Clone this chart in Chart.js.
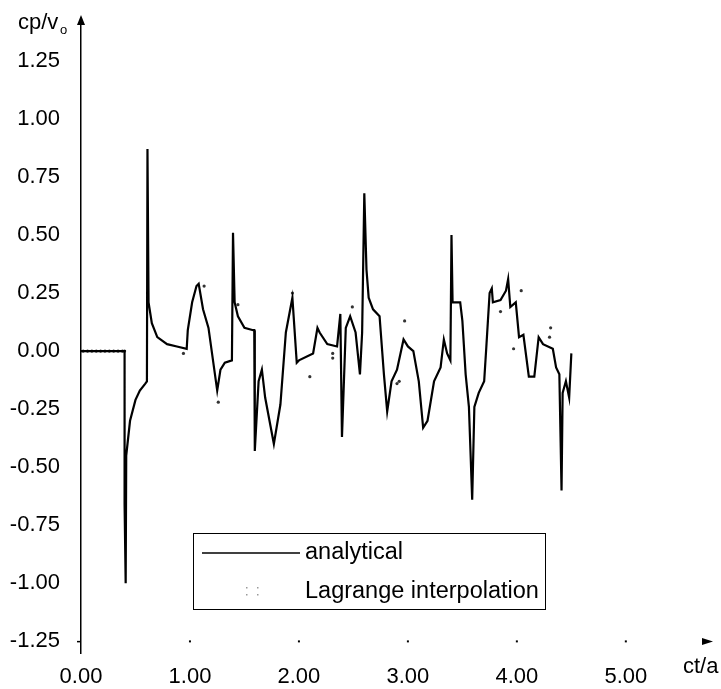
<!DOCTYPE html>
<html lang="en">
<head>
    <meta charset="UTF-8">
    <title>cp/v0 vs ct/a</title>
    <script src="https://cdn.jsdelivr.net/npm/chart.js"></script>
    <style>
        html, body {
            margin: 0;
            padding: 0;
            background: #fff;
        }
    </style>
</head>
<body>
<canvas id="pressureChart" width="721" height="689"></canvas>

<script>
    // analytical solution, ct/a against cp/v0
    const ctA = [
        0.00, 0.40, 0.40, 0.41, 0.415, 0.45, 0.50, 0.54, 0.59, 0.605,
        0.61, 0.62, 0.65, 0.70, 0.79, 0.88, 0.97,
        0.98, 1.02, 1.06, 1.08, 1.12, 1.17, 1.25, 1.28, 1.32, 1.385,
        1.395, 1.41, 1.44, 1.50, 1.58, 1.59, 1.595, 1.63, 1.66, 1.69, 1.77,
        1.83, 1.88, 1.94, 1.98, 2.00, 2.13, 2.17, 2.19, 2.26, 2.35,
        2.38, 2.395, 2.43, 2.47, 2.52, 2.56, 2.58, 2.60, 2.62, 2.64, 2.68, 2.74,
        2.78, 2.81, 2.85, 2.90, 2.96, 3.00, 3.05, 3.10, 3.14, 3.18,
        3.24, 3.30, 3.33, 3.36, 3.39, 3.40, 3.41, 3.48, 3.50, 3.53, 3.56,
        3.59, 3.61, 3.65, 3.70, 3.72, 3.75, 3.77, 3.78, 3.85, 3.90, 3.92,
        3.94, 3.99, 4.02, 4.06, 4.11, 4.16, 4.20, 4.24, 4.33, 4.36, 4.39,
        4.41, 4.42, 4.45, 4.48, 4.50
    ];
    const cpAnalytical = [
        0.00, 0.00, -0.66, -1.00, -0.45, -0.30, -0.21, -0.17, -0.14, -0.13,
        0.87, 0.21, 0.12, 0.06, 0.03, 0.02, 0.01,
        0.09, 0.21, 0.28, 0.29, 0.18, 0.10, -0.17, -0.08, -0.05, -0.04,
        0.51, 0.21, 0.15, 0.10, 0.09, 0.09, -0.43, -0.13, -0.08, -0.20, -0.40,
        -0.23, 0.08, 0.23, -0.05, -0.04, -0.01, 0.10, 0.08, 0.03, 0.02,
        0.16, -0.37, 0.10, 0.15, 0.08, -0.10, 0.08, 0.68, 0.35, 0.23, 0.18, 0.15,
        -0.10, -0.26, -0.13, -0.08, 0.05, 0.02, 0.00, -0.13, -0.33, -0.30,
        -0.13, -0.07, 0.05, -0.01, -0.04, 0.50, 0.21, 0.21, 0.13, -0.10, -0.24,
        -0.64, -0.24, -0.18, -0.13, 0.02, 0.25, 0.27, 0.21, 0.22, 0.26, 0.31,
        0.19, 0.21, 0.06, 0.07, -0.11, -0.11, 0.06, 0.03, 0.01, -0.07, -0.10,
        -0.60, -0.18, -0.13, -0.20, -0.01
    ];

    // interpolated samples that show off the analytical curve
    const ctLagrange = [
        0.02, 0.06, 0.10, 0.14, 0.18, 0.22, 0.26, 0.30, 0.34, 0.38, 0.40,
        0.94, 1.13, 1.26, 1.44, 1.94, 2.10, 2.31, 2.31, 2.49,
        2.90, 2.92, 2.97, 3.85, 3.97, 4.04, 4.30, 4.31
    ];
    const cpLagrange = [
        0.00, 0.00, 0.00, 0.00, 0.00, 0.00, 0.00, 0.00, 0.00, 0.00, 0.00,
        -0.01, 0.28, -0.22, 0.20, 0.25, -0.11, -0.01, -0.03, 0.19,
        -0.14, -0.13, 0.13, 0.17, 0.01, 0.26, 0.06, 0.10
    ];

    const xTicks = [0, 1, 2, 3, 4, 5];
    const yTicks = [-1.25, -1.00, -0.75, -0.50, -0.25, 0.00, 0.25, 0.50, 0.75, 1.00, 1.25];

    const fontFamily = '"Liberation Sans", Arial, Helvetica, sans-serif';

    // axis arrows, tick dots, axis titles and the boxed legend
    const decorations = {
        id: 'decorations',
        afterDraw(chart) {
            const c = chart.ctx;
            const xs = chart.scales.x;
            const ys = chart.scales.y;
            const area = chart.chartArea;
            const axisX = area.left;
            const baseY = ys.getPixelForValue(-1.25);

            c.save();
            c.fillStyle = '#000';
            c.strokeStyle = '#000';

            // y axis arrow head
            c.beginPath();
            c.moveTo(axisX, area.top - 4);
            c.lineTo(axisX - 4, area.top + 6);
            c.lineTo(axisX + 4, area.top + 6);
            c.closePath();
            c.fill();

            // x axis: just dots at the ticks and an arrow at the end
            xTicks.forEach(v => {
                if (v === 0) return;
                c.fillRect(xs.getPixelForValue(v) - 1, baseY - 1, 2, 2);
            });
            c.fillRect(axisX - 4, baseY - 0.5, 4, 1.5);
            c.beginPath();
            c.moveTo(area.right, baseY);
            c.lineTo(area.right - 11, baseY - 3.5);
            c.lineTo(area.right - 11, baseY + 3.5);
            c.closePath();
            c.fill();

            // axis titles
            c.font = '22px ' + fontFamily;
            c.textBaseline = 'alphabetic';
            c.textAlign = 'left';
            c.fillText('cp/v', 18, 29);
            c.font = '13px ' + fontFamily;
            c.fillText('o', 60, 34);
            c.font = '22px ' + fontFamily;
            c.fillText('ct/a', 683, 673);

            // legend
            const lx = 193.5, ly = 533.5, lw = 352, lh = 76;
            c.lineWidth = 1;
            c.strokeRect(lx, ly, lw, lh);
            c.lineWidth = 1.5;
            c.beginPath();
            c.moveTo(202, 553);
            c.lineTo(300, 553);
            c.stroke();
            c.fillStyle = '#999';
            [[246, 587], [246, 594], [257, 587], [257, 594]].forEach(p => {
                c.fillRect(p[0], p[1], 1.5, 1.5);
            });
            c.fillStyle = '#000';
            c.font = '23.5px ' + fontFamily;
            c.textBaseline = 'middle';
            c.fillText(chart.data.datasets[0].label, 305, 553);
            c.fillText(chart.data.datasets[1].label, 305, 592);
            c.restore();
        }
    };

    new Chart(document.getElementById('pressureChart'), {
        type: 'line',
        data: {
            datasets: [
                {
                    label: 'analytical',
                    data: ctA.map((t, i) => ({x: t, y: cpAnalytical[i]})),
                    borderColor: '#000',
                    borderWidth: 2.2,
                    pointRadius: 0,
                    tension: 0,
                    fill: false
                },
                {
                    label: 'Lagrange interpolation',
                    data: ctLagrange.map((t, i) => ({x: t, y: cpLagrange[i]})),
                    showLine: false,
                    pointRadius: 1.6,
                    pointBackgroundColor: '#333',
                    pointBorderWidth: 0
                }
            ]
        },
        options: {
            responsive: false,
            animation: false,
            layout: {
                autoPadding: false,
                padding: {top: 19, right: 8, bottom: 0, left: 0}
            },
            plugins: {
                legend: {display: false},
                tooltip: {enabled: false}
            },
            scales: {
                x: {
                    type: 'linear',
                    min: 0,
                    max: 5.8,
                    grid: {display: false, drawTicks: false},
                    border: {display: false},
                    afterBuildTicks: scale => {
                        scale.ticks = xTicks.map(v => ({value: v}));
                    },
                    afterFit: scale => {
                        scale.height = 36;
                    },
                    ticks: {
                        color: '#000',
                        padding: 11,
                        autoSkip: false,
                        maxRotation: 0,
                        font: {family: fontFamily, size: 22},
                        callback: v => v.toFixed(2)
                    }
                },
                y: {
                    min: -1.30,
                    max: 1.43,
                    // tick marks are hidden, their length only spaces the labels off the axis
                    grid: {display: false, drawTicks: true, tickLength: 21},
                    border: {display: true, color: '#000', width: 1.5},
                    afterBuildTicks: scale => {
                        scale.ticks = yTicks.map(v => ({value: v}));
                    },
                    afterFit: scale => {
                        scale.width = 81;
                    },
                    ticks: {
                        color: '#000',
                        padding: 0,
                        autoSkip: false,
                        font: {family: fontFamily, size: 22},
                        callback: v => v.toFixed(2)
                    }
                }
            }
        },
        plugins: [decorations]
    });
</script>
</body>
</html>
